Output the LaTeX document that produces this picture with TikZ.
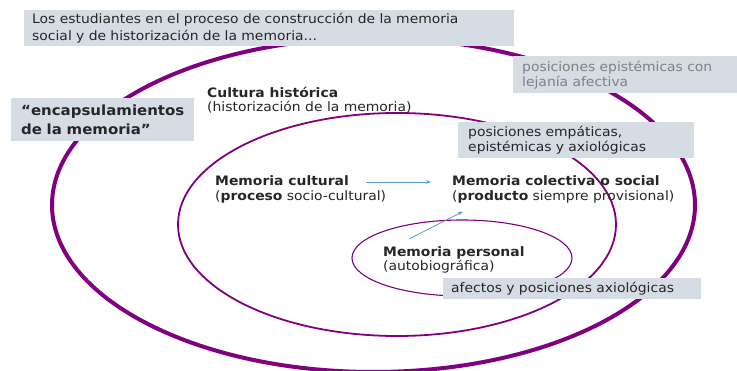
\documentclass[tikz,border=0pt]{standalone}
\usepackage{fontspec}
\setmainfont[FakeStretch=1.07]{DejaVu Sans}
\usetikzlibrary{arrows.meta}
\definecolor{purp}{HTML}{800080}
\definecolor{boxfill}{HTML}{D6DCE4}
\definecolor{txt}{HTML}{262626}
\definecolor{greytxt}{HTML}{808080}
\definecolor{arrowblue}{HTML}{5B9BD5}
\tikzset{
  ring/.style={draw=purp},
  tbox/.style={fill=boxfill, anchor=north west, inner ysep=0pt, align=left, text=txt,
    font=\fontsize{13}{17}\selectfont},
  lbl/.style={anchor=west, inner sep=0pt, align=left, text=txt,
    font=\fontsize{13}{14.5}\selectfont},
  conn/.style={draw=arrowblue, line width=0.8pt, -{Stealth[length=5pt,width=3.5pt]}},
}
\begin{document}
\begin{tikzpicture}[x=1pt,y=-1pt]
\useasboundingbox (0,0) rectangle (737,371);
% ellipses
\draw[ring, line width=4pt] (373.5,205) ellipse [x radius=321.5, y radius=167];
\draw[ring, line width=1.8pt] (397,224.5) ellipse [x radius=219, y radius=111.5];
\draw[ring, line width=1.1pt] (462,258) ellipse [x radius=110, y radius=38];
% boxes
\node[tbox, minimum width=490pt, minimum height=36pt, text width=474pt, inner xsep=8pt] (top) at (24,10)
  {Los estudiantes en el proceso de construcción de la memoria\\social y de historización de la memoria...};
\node[tbox, minimum width=224pt, minimum height=37pt, text width=206pt, inner xsep=9pt, text=greytxt,
  font=\fontsize{13}{15}\selectfont] (lej) at (513,56)
  {posiciones epistémicas con\\lejanía afectiva};
\node[tbox, minimum width=183pt, minimum height=43pt, text width=163pt, inner xsep=10pt,
  font=\fontsize{14}{19}\selectfont\bfseries] (enc) at (11,98)
  {“encapsulamientos\\de la memoria”};
\node[tbox, minimum width=236pt, minimum height=36pt, text width=216pt, inner xsep=10pt,
  font=\fontsize{13}{15}\selectfont] (emp) at (458,122)
  {posiciones empáticas,\\epistémicas y axiológicas};
\node[tbox, minimum width=258pt, minimum height=21pt, text width=242pt, inner xsep=8pt] (afe) at (443,278)
  {afectos y posiciones axiológicas};
% labels
\node[lbl] (cult) at (207,100) {\textbf{Cultura histórica}\\(historización de la memoria)};
\node[lbl] (mcul) at (215,189.5) {\textbf{Memoria cultural}\\(\textbf{proceso} socio-cultural)};
\node[lbl] (mcol) at (452,189.5) {\textbf{Memoria colectiva o social}\\(\textbf{producto} siempre provisional)};
\node[lbl] (mper) at (383,260) {\textbf{Memoria personal}\\(autobiográfica)};
% connectors
\coordinate (a1) at (366,182);
\coordinate (a2) at (431,182);
\coordinate (b1) at (409,239);
\coordinate (b2) at (463,211.5);
\draw[conn] (a1) -- (a2);
\draw[conn] (b1) -- (b2);
\end{tikzpicture}
\end{document}
